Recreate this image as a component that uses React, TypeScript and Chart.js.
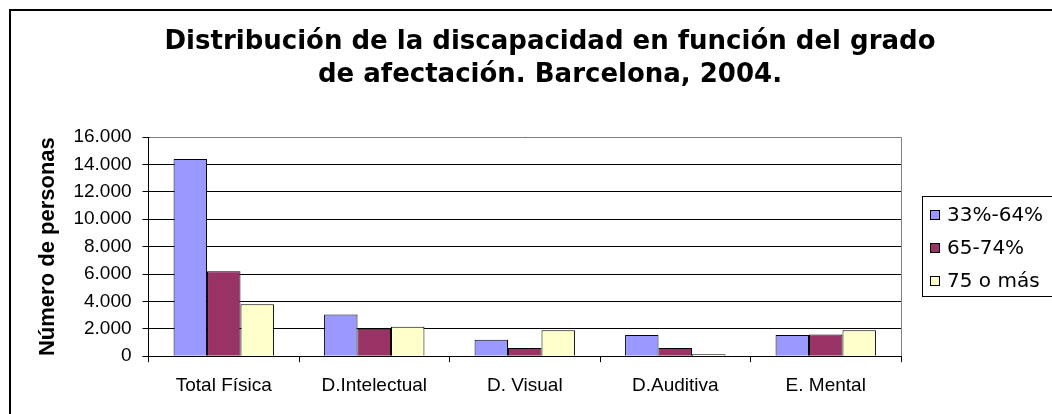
import React, { useEffect, useRef } from 'react';
import { Chart, registerables } from 'chart.js';

Chart.register(...registerables);

// ---- data ----
const categories = ['Total Física', 'D.Intelectual', 'D. Visual', 'D.Auditiva', 'E. Mental'];
const seriesNames = ['33%-64%', '65-74%', '75 o más'];
const grado33a64 = [14400, 3050, 1200, 1550, 1550];
const grado65a74 = [6200, 2000, 600, 600, 1580];
const grado75mas = [3800, 2150, 1900, 150, 1900];
const seriesColors = ['#9999FF', '#993366', '#FFFFCC'];
const titleLines = ['Distribución de la discapacidad en función del grado', 'de afectación. Barcelona, 2004.'];
const yAxisTitle = 'Número de personas';
const yMin = 0;
const yMax = 16000;
const yStep = 2000;

const CW = 1078;
const CH = 420;

const fmt = (v: number) => String(v).replace(/\B(?=(\d{3})+(?!\d))/g, '.');

const framePlugin = {
  id: 'frameAndLegend',
  afterDraw(chart: any) {
    const { ctx, chartArea: a } = chart;
    ctx.save();
    // plot area border (top + right), gray
    ctx.strokeStyle = '#808080';
    ctx.lineWidth = 1;
    const top = Math.round(a.top) + 0.5;
    const right = Math.round(a.right) + 0.5;
    ctx.beginPath();
    ctx.moveTo(Math.round(a.left) + 0.5, top);
    ctx.lineTo(right, top);
    ctx.lineTo(right, Math.round(a.bottom));
    ctx.stroke();

    // legend
    const ds = chart.data.datasets;
    ctx.font = '20px "DejaVu Sans"';
    let maxW = 0;
    ds.forEach((d: any) => { maxW = Math.max(maxW, ctx.measureText(d.label).width); });
    const L = Math.round(a.right + 21) + 0.5;
    const T = Math.round(a.top + 59) + 0.5;
    const B = Math.round(a.top + 159) + 0.5;
    const R = Math.round(a.right + 46 + maxW + 10) + 0.5;
    ctx.strokeStyle = '#000';
    ctx.strokeRect(L, T, R - L, B - T);
    ds.forEach((d: any, i: number) => {
      const cy = Math.round(a.top + 78 + i * 33);
      const x = Math.round(a.right + 29);
      ctx.fillStyle = d.backgroundColor;
      ctx.fillRect(x, cy - 5, 10, 10);
      ctx.strokeStyle = '#000';
      ctx.strokeRect(x + 0.5, cy - 4.5, 9, 9);
      ctx.fillStyle = '#000';
      ctx.textBaseline = 'middle';
      ctx.textAlign = 'left';
      ctx.fillText(d.label, a.right + 46, cy + 1);
    });
    ctx.restore();
  },
};

export default function App() {
  const ref = useRef<HTMLCanvasElement>(null);

  useEffect(() => {
    const canvas = ref.current!;
    const values = [grado33a64, grado65a74, grado75mas];
    const chart = new Chart(canvas, {
      type: 'bar',
      data: {
        labels: categories,
        datasets: seriesNames.map((name, i) => ({
          label: name,
          data: values[i],
          backgroundColor: seriesColors[i],
          borderColor: '#000',
          borderWidth: 1,
          categoryPercentage: 0.667,
          barPercentage: 1.0,
          yAxisID: 'y',
        })),
      },
      options: {
        responsive: false,
        animation: false,
        devicePixelRatio: 1,
        layout: { padding: { left: 0, right: 0, top: 0, bottom: 22 } },
        plugins: {
          legend: { display: false },
          tooltip: { enabled: false },
          title: {
            display: true,
            text: titleLines,
            color: '#000',
            font: { family: '"DejaVu Sans"', size: 26, weight: 'bold', lineHeight: 1.27 },
            padding: { top: 15, bottom: 45 },
          },
        },
        scales: {
          x: {
            grid: {
              display: true,
              drawOnChartArea: false,
              drawTicks: true,
              tickLength: 6,
              tickColor: '#000',
              offset: true,
            },
            border: { display: true, color: '#000' },
            ticks: {
              color: '#000',
              font: { family: '"Liberation Sans", Arial', size: 19 },
              padding: 12,
              maxRotation: 0,
              autoSkip: false,
            },
          },
          y: {
            min: yMin,
            max: yMax,
            grid: {
              color: '#000',
              tickColor: '#000',
              tickLength: 6,
            },
            border: { display: true, color: '#000' },
            ticks: {
              stepSize: yStep,
              color: '#000',
              font: { family: '"Liberation Sans", Arial', size: 19 },
              padding: 11,
              callback: (v: any) => fmt(Number(v)),
            },
            title: {
              display: true,
              text: yAxisTitle,
              color: '#000',
              font: { family: '"Liberation Sans", Arial', size: 22, weight: 'bold' },
              padding: { top: 24, bottom: 1 },
            },
          },
          y2: {
            position: 'right',
            display: true,
            grid: { display: false, drawOnChartArea: false },
            ticks: { display: false },
            border: { display: false },
            afterFit: (s: any) => { s.width = 188; },
          },
        },
      },
      plugins: [framePlugin],
    } as any);
    return () => chart.destroy();
  }, []);

  return (
    <div style={{ position: 'fixed', inset: 0, overflow: 'hidden', background: '#fff' }}>
      <div
        style={{
          position: 'absolute',
          left: 9,
          top: 9,
          width: CW,
          height: CH,
          border: '2px solid #000',
        }}
      >
        <canvas ref={ref} width={CW} height={CH} style={{ display: 'block', width: CW, height: CH }} />
      </div>
    </div>
  );
}
